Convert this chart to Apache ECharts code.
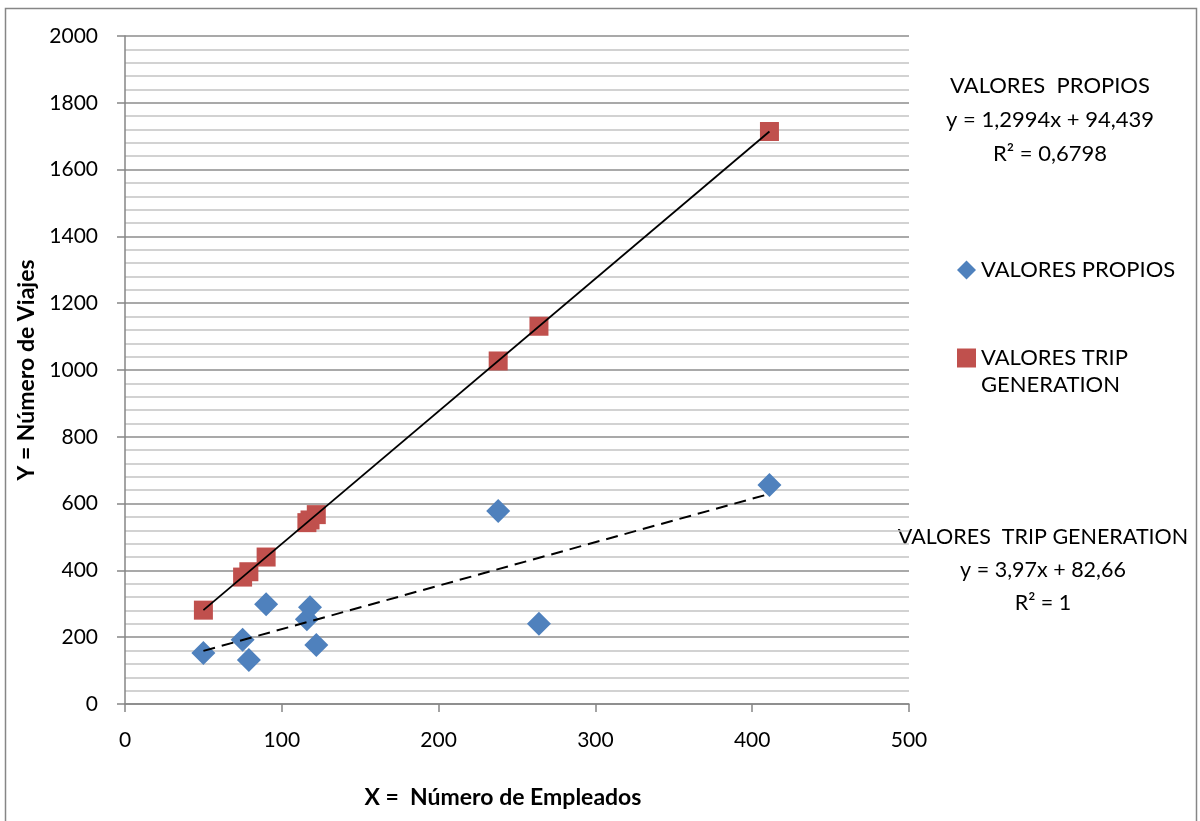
<!DOCTYPE html>
<html><head><meta charset="utf-8">
<script src="https://cdn.jsdelivr.net/npm/echarts@6/dist/echarts.min.js"></script>
<style>html,body{margin:0;padding:0;background:#fff}#c{width:1200px;height:821px}</style>
</head><body><div id="c"></div>
<script>
// Data
const empleados = [50, 75, 79, 90, 116, 118, 122, 238, 264, 411];
const viajesPropios = [153, 192, 132, 299, 254, 290, 177, 578, 240, 656];
const viajesTripGen = [281, 380, 396, 440, 543, 551, 567, 1027, 1131, 1714];
// Trend line end points (from the equations shown)
const trendPropiosX = [50, 411];
const trendPropiosY = [159, 629];
const trendTripX = [50, 411];
const trendTripY = [281, 1714];
const xTicks = [0, 100, 200, 300, 400, 500];
const yTicks = [0, 200, 400, 600, 800, 1000, 1200, 1400, 1600, 1800, 2000];
const seriesNames = ['VALORES PROPIOS', 'VALORES TRIP GENERATION'];
const eqPropios = ['VALORES  PROPIOS', 'y = 1,2994x + 94,439', 'R² = 0,6798'];
const eqTrip = ['VALORES  TRIP GENERATION', 'y = 3,97x + 82,66', 'R² = 1'];

const FONT = 'Lato, "Open Sans", sans-serif';
const zip = (a, b) => a.map((v, i) => [v, b[i]]);
const chart = echarts.init(document.getElementById('c'), null, {renderer: 'canvas'});

function eqText(lines, x, y0, gap, size) {
  return lines.map((t, i) => ({
    type: 'text', x: x, y: y0 + i * gap,
    style: {text: t, font: size + 'px ' + FONT, fill: '#000', textAlign: 'center', textVerticalAlign: 'middle'}
  }));
}

chart.setOption({
  animation: false,
  backgroundColor: '#fff',
  grid: {left: 125, right: 291, top: 36, bottom: 117, containLabel: false},
  xAxis: {
    type: 'value', min: xTicks[0], max: xTicks[xTicks.length - 1], interval: 100,
    name: 'X =  Número de Empleados', nameLocation: 'middle', nameGap: 82,
    nameTextStyle: {fontFamily: FONT, fontSize: 23, fontWeight: 'bold', color: '#000', padding: [0, 28, 0, 0]},
    axisLine: {show: true, lineStyle: {color: '#868686', width: 1.5}},
    axisTick: {show: true, length: 8, lineStyle: {color: '#868686', width: 1.5}},
    axisLabel: {fontFamily: FONT, fontSize: 21, color: '#000', margin: 26, formatter: v => String(v)},
    splitLine: {show: false}
  },
  yAxis: {
    type: 'value', min: yTicks[0], max: yTicks[yTicks.length - 1], interval: 200,
    name: 'Y = Número de Viajes', nameLocation: 'middle', nameGap: 85, nameRotate: 90,
    nameTextStyle: {fontFamily: FONT, fontSize: 23, fontWeight: 'bold', color: '#000'},
    axisLine: {show: true, lineStyle: {color: '#868686', width: 1.5}},
    axisTick: {show: true, length: 8, lineStyle: {color: '#868686', width: 1.5}},
    axisLabel: {fontFamily: FONT, fontSize: 21, color: '#000', margin: 27, formatter: v => String(v)},
    splitLine: {show: true, lineStyle: {color: '#8c8c8c', width: 1.5}},
    minorTick: {show: false, splitNumber: 5},
    minorSplitLine: {show: true, lineStyle: {color: '#c3c3c3', width: 1.5}}
  },
  legend: {
    orient: 'vertical', left: 952, top: 254, itemGap: 66,
    itemWidth: 19, itemHeight: 19,
    data: [
      {name: seriesNames[0], icon: 'diamond'},
      {name: seriesNames[1], icon: 'rect'}
    ],
    formatter: n => n === seriesNames[1] ? 'VALORES TRIP' : n,
    textStyle: {fontFamily: FONT, fontSize: 22, color: '#000', lineHeight: 22}
  },
  graphic: [
    {type: 'rect', shape: {x: 5.5, y: 8.5, width: 1191, height: 830}, style: {fill: 'none', stroke: '#868686', lineWidth: 1.5}, silent: true},
    {type: 'text', x: 981, y: 385, style: {text: 'GENERATION', font: '22px ' + FONT, fill: '#000', textAlign: 'left', textVerticalAlign: 'middle'}},
    ...eqText(eqPropios, 1050, 86, 34, 22),
    ...eqText(eqTrip, 1043, 537, 33, 21.5)
  ],
  series: [
    {
      name: seriesNames[0], type: 'scatter', symbol: 'diamond', symbolSize: [24, 24],
      itemStyle: {color: '#4F81BD', opacity: 1}, data: zip(empleados, viajesPropios), z: 3
    },
    {
      name: seriesNames[1], type: 'scatter', symbol: 'rect', symbolSize: 19,
      itemStyle: {color: '#C0504D', opacity: 1}, data: zip(empleados, viajesTripGen), z: 3
    },
    {
      name: 'trend1', type: 'line', symbol: 'none', silent: true, z: 4,
      lineStyle: {color: '#000', width: 2, type: [12, 7]}, data: zip(trendPropiosX, trendPropiosY)
    },
    {
      name: 'trend2', type: 'line', symbol: 'none', silent: true, z: 4,
      lineStyle: {color: '#000', width: 1.8}, data: zip(trendTripX, trendTripY)
    }
  ]
});
</script></body></html>
